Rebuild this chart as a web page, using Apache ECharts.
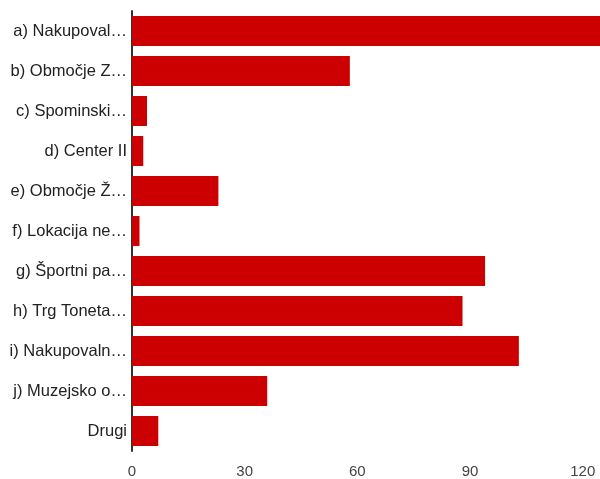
<!DOCTYPE html>
<html>
<head>
<meta charset="utf-8">
<script src="https://cdn.jsdelivr.net/npm/echarts@6/dist/echarts.min.js"></script>
<style>html,body{margin:0;padding:0;background:#fff}#c{width:600px;height:479px}</style>
</head>
<body>
<div id="c"></div>
<script>
const categories = ["a) Nakupoval…","b) Območje Z…","c) Spominski…","d) Center II","e) Območje Ž…","f) Lokacija ne…","g) Športni pa…","h) Trg Toneta…","i) Nakupovaln…","j) Muzejsko o…","Drugi"];
const values = [125, 58, 4, 3, 23, 2, 94, 88, 103, 36, 7];
const chart = echarts.init(document.getElementById('c'), null, {renderer:'canvas'});
chart.setOption({
  animation:false,
  grid:{left:132,right:0,top:11,bottom:27,containLabel:false},
  xAxis:{type:'value',min:0,max:124.6,interval:30,
    axisLine:{show:false},axisTick:{show:false},splitLine:{show:false},
    axisLabel:{showMaxLabel:false,color:'#444',fontSize:15,fontFamily:'Liberation Sans, Arial',margin:13}},
  yAxis:{type:'category',data:categories,inverse:true,
    axisLine:{show:true,lineStyle:{color:'#333',width:2}},axisTick:{show:false},
    axisLabel:{color:'#222',fontSize:16.5,fontFamily:'Liberation Sans, Arial',margin:5}},
  series:[{type:'bar',data:values,barCategoryGap:'25%',clip:true,itemStyle:{color:'#cc0000'}}]
});
</script>
</body>
</html>
